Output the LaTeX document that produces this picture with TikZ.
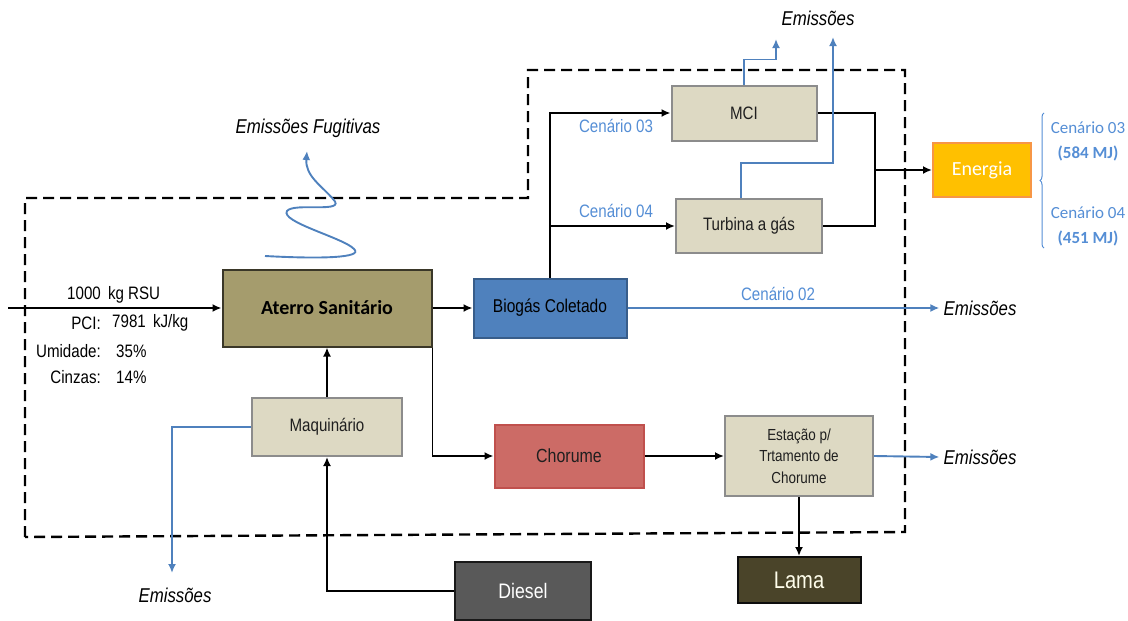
\documentclass[tikz,border=0pt]{standalone}
\usepackage{fontspec}
\setmainfont{Liberation Sans}[FakeStretch=0.84]
\newfontfamily\calibri{Carlito}
\usetikzlibrary{arrows.meta,decorations.pathreplacing,calc}

\definecolor{tanfill}{HTML}{DDD9C3}
\definecolor{tanline}{HTML}{8C8C8C}
\definecolor{olivefill}{HTML}{A59C6D}
\definecolor{oliveline}{HTML}{3A3728}
\definecolor{biofill}{HTML}{4F81BD}
\definecolor{bioline}{HTML}{385D8A}
\definecolor{chorfill}{HTML}{CC6B66}
\definecolor{chorline}{HTML}{C0504D}
\definecolor{enfill}{HTML}{FFC000}
\definecolor{enline}{HTML}{F79646}
\definecolor{dieselfill}{HTML}{595959}
\definecolor{lamafill}{HTML}{4A4429}
\definecolor{eblue}{HTML}{4F81BD}
\definecolor{cblue}{HTML}{558ED5}

\tikzset{
  box/.style={draw, rectangle, inner sep=0pt, line width=2pt, align=center},
  tanbox/.style={box, fill=tanfill, draw=tanline, text=black!88,
    font=\fontsize{18}{21}\selectfont},
  flow/.style={line width=1.9pt, -{Latex[length=9pt,width=8pt]}},
  eflow/.style={flow, draw=eblue},
  lbl/.style={inner sep=0pt, font=\fontsize{18}{20}\selectfont},
  elbl/.style={inner sep=4pt, font=\fontsize{20}{22}\selectfont\itshape},
  cen/.style={lbl, text=cblue},
  cenr/.style={inner sep=0pt, text=cblue, font=\calibri\fontsize{17}{19}\selectfont},
  boundary/.style={line width=2.4pt, dash pattern=on 11pt off 6pt},
}

\begin{document}
\begin{tikzpicture}[x=1pt,y=-1pt]
\useasboundingbox (0,0) rectangle (1128,621);

% system boundary
\draw[boundary] (25,537) -- (25,198) -- (528,198) -- (528,70) -- (905,70) -- (905,532) -- cycle;

% process blocks
\node[box, fill=olivefill, draw=oliveline, minimum width=209pt, minimum height=77pt,
      font=\calibri\bfseries\fontsize{20}{22}\selectfont] (aterro) at (327,308) {Aterro Sanitário};
\node[box, fill=biofill, draw=bioline, minimum width=153pt, minimum height=59pt,
      font=\fontsize{18.5}{21}\selectfont] (biogas) at (550,308) {Biogás Coletado};
\node[tanbox, minimum width=145pt, minimum height=55pt] (mci) at (744,113) {MCI};
\node[tanbox, minimum width=146pt, minimum height=54pt] (turb) at (749,226) {Turbina a gás};
\node[box, fill=enfill, draw=enline, text=white, minimum width=98pt, minimum height=54pt,
      font=\calibri\fontsize{20}{22}\selectfont] (energia) at (982,170) {Energia};
\node[tanbox, minimum width=150pt, minimum height=58pt] (maq) at (327,427) {Maquinário};
\node[box, fill=chorfill, draw=chorline, text=black!88, minimum width=149pt, minimum height=63pt,
      font=\fontsize{19}{21}\selectfont] (chor) at (569,456) {Chorume};
\node[tanbox, minimum width=148pt, minimum height=80pt,
      font=\fontsize{16}{21.5}\selectfont] (est) at (799,456) {Estação p/\\Trtamento de\\Chorume};
\node[box, fill=dieselfill, draw=black!90, text=white, minimum width=136pt, minimum height=58pt,
      font=\fontsize{21}{23}\selectfont] (diesel) at (523,591) {Diesel};
\node[box, fill=lamafill, draw=black!95, text=white!92!yellow, minimum width=123pt, minimum height=46pt,
      font=\fontsize{24}{26}\selectfont] (lama) at (799,580) {Lama};

% waste input and its properties
\coordinate (in) at (8,308);
\draw[flow] (in) -- (aterro.west);
\node[lbl, anchor=west] (rsu) at (67,295) {1000\, kg RSU};
\node[lbl, anchor=east] (pcik) at (101,323) {PCI:};
\node[lbl, anchor=west] (pciv) at (112,323) {7981\, kJ/kg};
\node[lbl, anchor=east] (umk) at (101,351) {Umidade:};
\node[lbl, anchor=west] (umv) at (116,351) {35\%};
\node[lbl, anchor=east] (cik) at (101,377) {Cinzas:};
\node[lbl, anchor=west] (civ) at (116,377) {14\%};

% main material flows
\draw[flow] (aterro.east) -- (biogas.west);
\draw[flow] (biogas.north) |- (mci.west);
\draw[flow] (biogas.north) |- (turb.west);
\coordinate (junc) at (875,170);
\draw[line width=1.9pt] (mci.east) -| (junc);
\draw[line width=1.9pt] (turb.east) -| (junc);
\draw[flow] (junc) -- (energia.west);
\draw[flow] (aterro.south east) |- (chor.west);
\draw[flow] (chor.east) -- (est.west);
\draw[flow] (est.south) -- (lama.north);
\draw[flow] (maq.north) -- (maq.north |- aterro.south);
\draw[flow] (diesel.west) -| (maq.south);

% scenario labels
\node[cen] (c03) at (616,126) {Cenário 03};
\node[cen] (c04) at (616,211) {Cenário 04};
\node[cen] (c02) at (778,294) {Cenário 02};

% emissions
\node[elbl] (emtop) at (818,18) {Emissões};
\coordinate (mciE) at (776,39);
\coordinate (turbE) at (833,37);
\draw[eflow] (mci.north) -- ++(0,-25) -| (mciE);
\draw[eflow] ([xshift=-8pt]turb.north) -- ++(0,-35) -| (turbE);

\node[elbl] (embio) at (980,308) {Emissões};
\draw[eflow] (biogas.east) -- (embio.west);
\node[elbl] (emest) at (980,457) {Emissões};
\draw[eflow] (est.east) -- (emest.west);

\node[elbl, inner sep=0pt] (emmaq) at (175,595) {Emissões};
\coordinate (maqE) at (172,573);
\draw[eflow] (maq.west) -| (maqE);

% fugitive emissions from the landfill
\node[elbl, inner sep=0pt] (emfug) at (308,128) {Emissões Fugitivas};
\coordinate (fugA) at (265,256);
\coordinate (fugB) at (307,151);
\draw[eflow] (fugA) .. controls (320,259) and (364,258) .. (354,249)
  .. controls (344,238) and (280,222) .. (287,211)
  .. controls (294,202) and (348,214) .. (333,199)
  .. controls (322,186) and (305,176) .. (fugB);

% energy results per scenario
\draw[cblue, line width=1pt, decorate, decoration={brace, amplitude=4pt}] (1044,248) -- (1044,113);
\node[cenr] (r03) at (1088,128) {Cenário 03};
\node[cenr, font=\calibri\bfseries\fontsize{17}{19}\selectfont] (r03v) at (1088,153) {(584 MJ)};
\node[cenr] (r04) at (1088,213) {Cenário 04};
\node[cenr, font=\calibri\bfseries\fontsize{17}{19}\selectfont] (r04v) at (1088,238) {(451 MJ)};

\end{tikzpicture}
\end{document}
